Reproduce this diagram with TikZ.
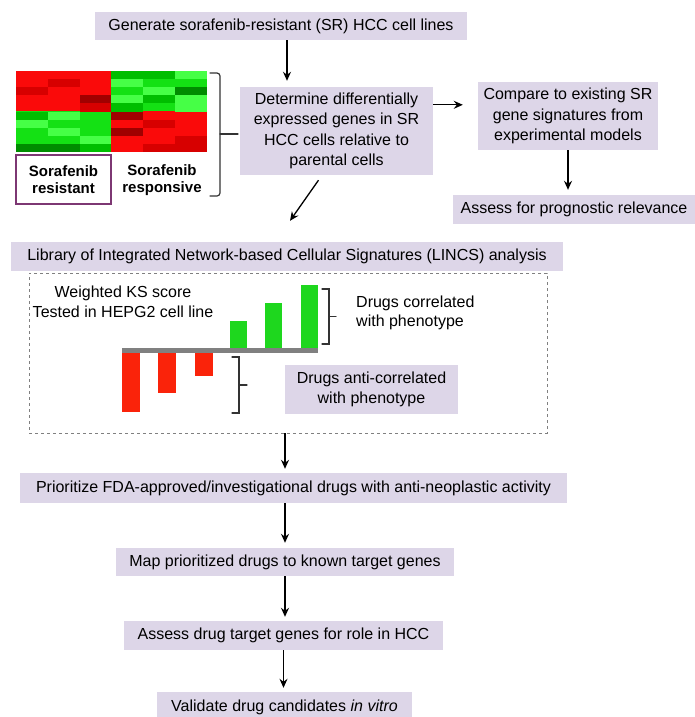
\documentclass[tikz,border=0pt]{standalone}
\usepackage{fontspec}
\setmainfont{Liberation Sans}
\usetikzlibrary{arrows.meta,positioning}
\definecolor{boxfill}{RGB}{221,214,232}
\definecolor{frameviolet}{RGB}{125,55,115}
\definecolor{hmred}{RGB}{250,10,10}
\definecolor{hmredmid}{RGB}{215,0,0}
\definecolor{hmreddark}{RGB}{160,0,0}
\definecolor{hmgreen}{RGB}{20,225,20}
\definecolor{hmgreenlight}{RGB}{70,255,70}
\definecolor{hmgreenmid}{RGB}{0,190,0}
\definecolor{hmgreendark}{RGB}{0,140,0}
\definecolor{barred}{RGB}{250,35,10}
\definecolor{bargreen}{RGB}{30,215,30}
\tikzset{
    stepbox/.style={fill=boxfill, inner sep=0pt, align=center, font=\fontsize{16}{20.5}\selectfont}, % lavender step boxes
    flow/.style={-{Stealth[length=9pt, width=8pt, inset=3pt]}, line width=1.3pt}, % flow arrows
    brace/.style={line width=1.2pt, black!80, line cap=round} % square brackets
}
\begin{document}
\begin{tikzpicture}[x=1pt, y=-1pt]
    \clip (0,0) rectangle (695,717);
    \fill[white] (0,0) rectangle (695,717);

    % steps
    \node[stepbox, minimum width=372pt, minimum height=28pt] (gen) at (281,26) {Generate sorafenib-resistant (SR) HCC cell lines};
    \node[stepbox, minimum width=193pt, minimum height=88pt] (det) at (336.5,131) {Determine differentially\\expressed genes in SR\\HCC cells relative to\\parental cells};
    \node[stepbox, minimum width=180pt, minimum height=68pt] (cmp) at (568,116) {Compare to existing SR\\gene signatures from\\experimental models};
    \node[stepbox, minimum width=242pt, minimum height=29pt] (prog) at (574,209.5) {Assess for prognostic relevance};
    \node[stepbox, minimum width=552pt, minimum height=29pt] (lincs) at (287,256.5) {Library of Integrated Network-based Cellular Signatures (LINCS) analysis};
    \node[draw=gray, dashed, line width=0.7pt, minimum width=518pt, minimum height=160pt, inner sep=0pt] (frame) at (288,353) {};
    \node[stepbox, minimum width=547pt, minimum height=30pt] (prio) at (293.5,488) {Prioritize FDA-approved/investigational drugs with anti-neoplastic activity};
    \node[stepbox, minimum width=338pt, minimum height=28pt] (map) at (285,562) {Map prioritized drugs to known target genes};
    \node[stepbox, minimum width=319pt, minimum height=29pt] (target) at (283.5,635.5) {Assess drug target genes for role in HCC};
    \node[stepbox, minimum width=255pt, minimum height=30pt] (valid) at (284.5,707) {Validate drug candidates \textit{in vitro}};

    % heat map
    \fill[hmred] (16,71) rectangle (111,111);
    \fill[hmgreen] (111,71) rectangle (207,111);
    \fill[hmgreen] (16,111) rectangle (111,152);
    \fill[hmred] (111,111) rectangle (207,152);
    \foreach \c/\r/\col in {2/3/hmreddark, 2/4/hmredmid, 1/1/hmredmid, 0/2/hmredmid,
        3/0/hmgreenmid, 4/0/hmgreenmid, 5/0/hmgreenlight, 3/1/hmgreenlight, 4/2/hmgreenlight,
        5/2/hmgreendark, 3/3/hmgreenlight, 4/3/hmgreenmid, 5/3/hmgreenlight, 3/4/hmgreenmid,
        5/4/hmgreenlight, 0/5/hmgreenmid, 1/5/hmgreenlight, 0/6/hmgreenlight, 1/7/hmgreenlight,
        2/8/hmgreenlight, 0/9/hmgreendark, 1/9/hmgreendark, 2/9/hmgreenmid,
        3/5/hmreddark, 3/7/hmreddark, 4/6/hmredmid, 4/9/hmredmid, 5/9/hmredmid, 5/8/hmredmid} {
        \fill[\col] (16+\c*31.83,71+\r*8.1) rectangle ++(31.83,8.1);
    }
    \node[draw=frameviolet, line width=1.2pt, minimum width=95pt, minimum height=49pt, inner sep=0pt, align=center,
        font=\fontsize{15}{17}\selectfont\bfseries] (resist) at (63.5,179.5) {Sorafenib\\resistant};
    \node[align=center, font=\fontsize{15}{17}\selectfont\bfseries] (respond) at (162,180) {Sorafenib\\responsive};
    \draw[brace, rounded corners=3pt] (210,73) -- (220,73) -- (220,196) -- (210,196);
    \draw[brace] (220,134) -- (238,134);

    % KS score bars
    \node[align=center, font=\fontsize{16}{20}\selectfont] (kslabel) at (123,302) {Weighted KS score\\Tested in HEPG2 cell line};
    \foreach \x/\h in {230/321, 265/303, 301/285} {\fill[bargreen] (\x,\h) rectangle (\x+17,348);}
    \foreach \x/\b in {122/412, 158/393, 195/376} {\fill[barred] (\x,353) rectangle (\x+18,\b);}
    \fill[gray] (122,348) rectangle (318,353);
    \draw[brace] (322,289) -- (329,289) -- (329,344) -- (322,344);
    \draw[brace] (329,316.5) -- (336,316.5);
    \draw[brace] (232,357) -- (239,357) -- (239,413) -- (232,413);
    \draw[brace] (239,385) -- (247,385);
    \node[anchor=west, align=left, inner sep=0pt, font=\fontsize{16}{19.5}\selectfont] (corr) at (356,313) {Drugs correlated\\with phenotype};
    \node[stepbox, minimum width=173pt, minimum height=49pt, font=\fontsize{16}{19.5}\selectfont] (anti) at (371.5,389.5) {Drugs anti-correlated\\with phenotype};

    % connectors
    \draw[flow, shorten >=6pt] ([xshift=6pt]gen.south) -- ([xshift=6pt]gen.south |- det.north);
    \draw[flow, shorten >=15pt] ([yshift=-18pt]det.north east) -- ([yshift=-18pt]det.north east -| cmp.west);
    \draw[flow, shorten >=5pt] (cmp.south) -- (cmp.south |- prog.north);
    \draw[flow] ([xshift=-18pt, yshift=-5pt]det.south) -- ([xshift=3pt, yshift=21pt]lincs.north);
    \draw[flow, shorten >=4pt] ([xshift=-3pt]frame.south) -- ([xshift=-3pt]frame.south |- prio.north);
    \draw[flow, shorten >=5pt] (map.north |- prio.south) -- (map.north);
    \draw[flow, shorten >=4pt] (map.south) -- (map.south |- target.north);
    \draw[flow, shorten >=4pt] (target.south) -- (target.south |- valid.north);
\end{tikzpicture}
\end{document}
